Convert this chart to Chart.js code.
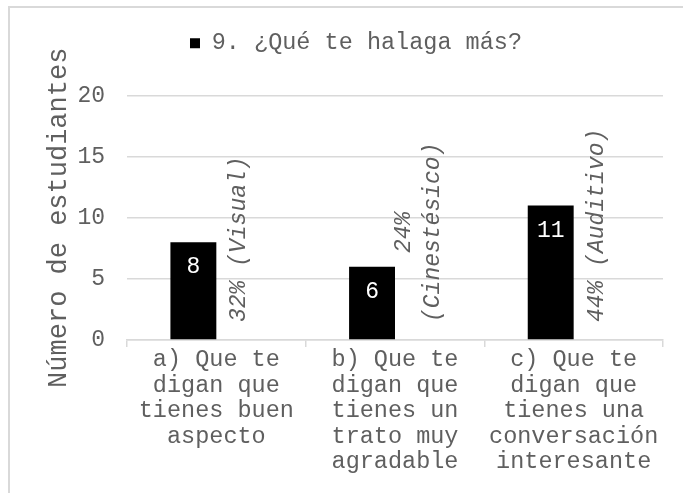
<!DOCTYPE html>
<html>
<head>
<meta charset="utf-8">
<title>9. ¿Qué te halaga más?</title>
<script src="https://cdn.jsdelivr.net/npm/chart.js@4.4.0/dist/chart.umd.min.js"></script>
<style>
  html, body { margin: 0; padding: 0; background: #fff; overflow: hidden; }
  #box {
    position: absolute; left: 8px; top: 6px;
    width: 692px; height: 500px;
    border-left: 2px solid #d9d9d9; border-top: 2px solid #d9d9d9;
  }
  canvas { display: block; }
</style>
</head>
<body>
<div id="box"><canvas id="chart" width="692" height="500"></canvas></div>
<script>
// Datos
const seriesName = '9. ¿Qué te halaga más?';
const categories = [
  ['a) Que te', 'digan que', 'tienes buen', 'aspecto'],
  ['b) Que te', 'digan que', 'tienes un', 'trato muy', 'agradable'],
  ['c) Que te', 'digan que', 'tienes una', 'conversación', 'interesante']
];
const studentCounts = [8, 6, 11];
const percentLabels = [
  ['32% (Visual)'],
  ['24%', '(Cinestésico)'],
  ['44% (Auditivo)']
];
const yTitle = 'Número de estudiantes';
const yMin = 0, yMax = 20, yStep = 5;

const grey = '#5f5f5f';
const gridGrey = '#d9d9d9';
Chart.defaults.font.family = "'Liberation Mono', 'Courier New', monospace";
Chart.defaults.color = grey;

// Etiquetas: valor dentro de la barra y porcentaje girado al lado
const barLabels = {
  id: 'barLabels',
  afterDatasetsDraw(chart) {
    const ctx = chart.ctx;
    const base = chart.scales.y.getPixelForValue(0);

    ctx.save();
    ctx.font = "23px 'Liberation Mono', monospace";
    ctx.fillStyle = '#fff';
    ctx.textAlign = 'center';
    ctx.textBaseline = 'middle';
    chart.getDatasetMeta(0).data.forEach((bar, i) => {
      ctx.fillText(String(studentCounts[i]), bar.x, bar.y + 25);
    });
    ctx.restore();

    ctx.save();
    ctx.font = "italic 23px 'Liberation Mono', monospace";
    ctx.fillStyle = grey;
    ctx.textAlign = 'center';
    ctx.textBaseline = 'middle';
    chart.getDatasetMeta(1).data.forEach((bar, i) => {
      const lines = percentLabels[i];
      const len = Math.max(...lines.map(l => ctx.measureText(l).width));
      ctx.save();
      ctx.translate(bar.x, base - 18);
      ctx.rotate(-Math.PI / 2);
      lines.forEach((l, k) => {
        ctx.fillText(l, len / 2, (k - (lines.length - 1) / 2) * 29);
      });
      ctx.restore();
    });
    ctx.restore();
  }
};

new Chart(document.getElementById('chart'), {
  type: 'bar',
  data: {
    labels: categories,
    datasets: [
      {
        label: seriesName,
        data: studentCounts,
        backgroundColor: '#000',
        borderWidth: 0,
        categoryPercentage: 0.514,
        barPercentage: 1
      },
      {
        label: 'porcentaje',
        data: studentCounts,
        backgroundColor: 'rgba(0,0,0,0)',
        borderWidth: 0,
        categoryPercentage: 0.514,
        barPercentage: 1
      }
    ]
  },
  options: {
    responsive: false,
    animation: false,
    events: [],
    layout: { padding: { top: 13.5, left: 0, right: 0, bottom: 0 } },
    plugins: {
      legend: {
        position: 'top',
        labels: {
          boxWidth: 10,
          boxHeight: 10,
          padding: 10,
          color: grey,
          font: { size: 23.5 },
          filter: item => item.datasetIndex === 0
        }
      },
      // espaciador entre leyenda y área del gráfico
      title: {
        display: true,
        text: '',
        weight: 500,
        font: { size: 10, lineHeight: 1 },
        padding: { top: 20.5, bottom: 0 }
      },
      tooltip: { enabled: false }
    },
    scales: {
      x: {
        afterFit: s => { s.height = 168; },
        grid: {
          offset: true,
          drawOnChartArea: false,
          drawTicks: true,
          tickLength: 7,
          color: gridGrey,
          lineWidth: 1.5
        },
        border: { color: gridGrey, width: 1.5 },
        ticks: {
          color: grey,
          padding: 0,
          maxRotation: 0,
          autoSkip: false,
          font: { size: 23.5, lineHeight: 1.087 }
        }
      },
      y: {
        min: yMin,
        max: yMax,
        afterFit: s => { s.width = 117; },
        grid: { color: gridGrey, lineWidth: 1.5, drawTicks: false },
        border: { display: false },
        ticks: {
          stepSize: yStep,
          color: grey,
          padding: 22,
          font: { size: 23 }
        },
        title: {
          display: true,
          text: yTitle,
          color: grey,
          font: { size: 27 },
          padding: { top: 33, bottom: 0 }
        }
      },
      // margen derecho vacío (el gráfico original sigue más allá del recorte)
      margen: {
        type: 'linear',
        position: 'right',
        afterFit: s => { s.width = 39; },
        grid: { display: false, drawTicks: false },
        border: { display: false },
        ticks: { display: false }
      }
    }
  },
  plugins: [barLabels]
});
</script>
</body>
</html>
